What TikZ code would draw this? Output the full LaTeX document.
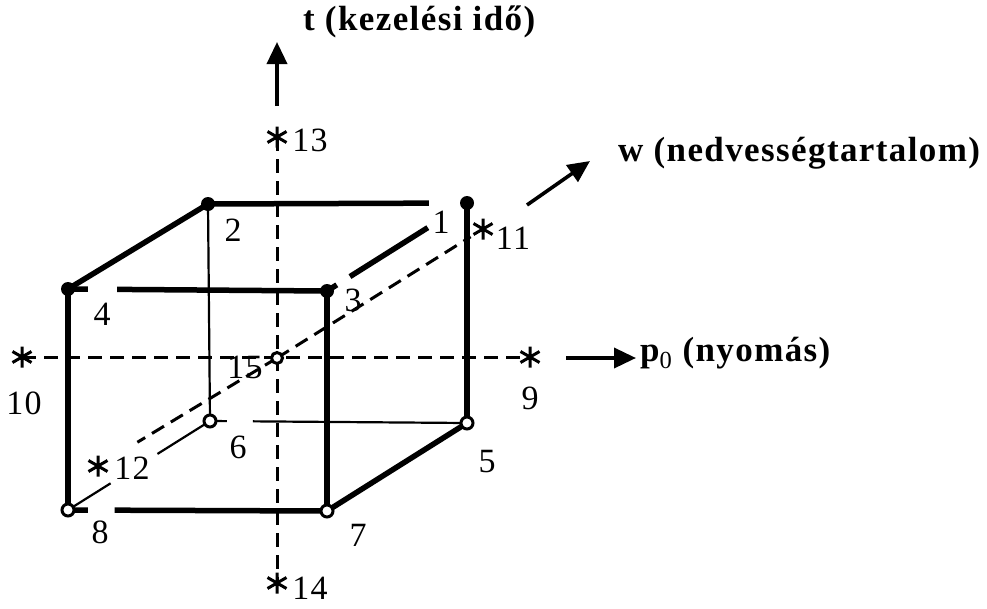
\documentclass[tikz,border=0pt]{standalone}
\usepackage{fontspec}
\setmainfont{Liberation Serif}[LetterSpace=4]
\usetikzlibrary{calc,arrows.meta}
\tikzset{
  thickedge/.style={line width=5.5pt},
  thinedge/.style={line width=2.2pt},
  axisdash/.style={line width=3pt, dash pattern=on 14pt off 8pt},
  fdot/.style={circle, fill=black, inner sep=0pt, minimum size=14pt},
  odot/.style={circle, draw=black, fill=white, line width=3pt, inner sep=0pt, minimum size=12pt},
  lbl/.style={inner sep=0pt, font=\fontsize{34}{38}\selectfont},
  axlbl/.style={inner sep=0pt, font=\fontsize{35}{40}\selectfont\bfseries},
  axarrow/.style={line width=3.6pt, -{Triangle[length=22pt,width=20pt]}},
  astk/.pic={\draw[line width=3pt] (0,-10.5)--(0,10.5) (-9.5,-5.5)--(9.5,5.5) (-9.5,5.5)--(9.5,-5.5);}
}
\begin{document}
\begin{tikzpicture}[x=1pt,y=-1pt]
\useasboundingbox (0,0) rectangle (987,608);
% cube vertices
\coordinate (p1) at (467,203);
\coordinate (p2) at (208,204);
\coordinate (p3) at (327,291);
\coordinate (p4) at (68,289);
\coordinate (p5) at (467,423);
\coordinate (p6) at (210,421);
\coordinate (p7) at (327,511);
\coordinate (p8) at (68,510);
\coordinate (c15) at (277,358);
% star points
\coordinate (s9) at (530,357);
\coordinate (s10) at (22,357);
\coordinate (s11) at (483,229);
\coordinate (s12) at (98,466);
\coordinate (s13) at (277,137);
\coordinate (s14) at (277,583);
% axes
\draw[axisdash] (s10) -- (s9);
\draw[axisdash] (s13) -- (s14);
\draw[axisdash] (c15) -- ($(c15)!0.94!(s11)$);
\draw[axisdash] (c15) -- ($(c15)!0.78!(s12)$);
% thin hidden edges
\draw[thinedge] (p2) -- (p6);
\draw[thinedge] (p6) -- ($(p6)!0.066!(p5)$);
\draw[thinedge] ($(p6)!0.167!(p5)$) -- (p5);
\draw[thinedge] (p8) -- ($(p8)!0.30!(p6)$);
\draw[thinedge] ($(p8)!0.63!(p6)$) -- (p6);
% thick edges
\draw[thickedge] (p4) -- (p2);
\draw[thickedge] (p2) -- ($(p2)!0.853!(p1)$);
\draw[thickedge] (p4) -- ($(p4)!0.077!(p3)$);
\draw[thickedge] ($(p4)!0.19!(p3)$) -- (p3);
\draw[thickedge] (p3) -- ($(p3)!0.07!(p1)$);
\draw[thickedge] ($(p3)!0.164!(p1)$) -- ($(p3)!0.72!(p1)$);
\draw[thickedge] (p4) -- (p8);
\draw[thickedge] (p3) -- (p7);
\draw[thickedge] (p1) -- (p5);
\draw[thickedge] (p8) -- ($(p8)!0.077!(p7)$);
\draw[thickedge] ($(p8)!0.18!(p7)$) -- (p7);
\draw[thickedge] (p7) -- (p5);
% vertex dots
\node[fdot] (d1) at (p1) {};
\node[fdot] (d2) at (p2) {};
\node[fdot] (d3) at (p3) {};
\node[fdot] (d4) at (p4) {};
\node[odot] (d5) at (p5) {};
\node[odot] (d6) at (p6) {};
\node[odot] (d7) at (p7) {};
\node[odot] (d8) at (p8) {};
\node[odot, minimum size=11pt] (d15) at (c15) {};
% stars
\pic (m9) at (s9) {astk};
\pic (m10) at (s10) {astk};
\pic (m11) at (s11) {astk};
\pic (m12) at (s12) {astk};
\pic (m13) at (s13) {astk};
\pic (m14) at (s14) {astk};
% direction arrows
\coordinate (ta) at (277,106);
\coordinate (tb) at (277,42);
\draw[axarrow] (ta) -- (tb);
\coordinate (pa) at (566,358);
\coordinate (pb) at (636,358);
\draw[axarrow] (pa) -- (pb);
\coordinate (wa) at (527,205);
\coordinate (wb) at (590,161);
\draw[axarrow] (wa) -- (wb);
% labels
\node[lbl] (l1) at (441,222) {1};
\node[lbl] (l2) at (233,230) {2};
\node[lbl] (l3) at (353,300) {3};
\node[lbl] (l4) at (102,314) {4};
\node[lbl] (l5) at (487,462) {5};
\node[lbl] (l6) at (238,447) {6};
\node[lbl] (l7) at (358,535) {7};
\node[lbl] (l8) at (100,532) {8};
\node[lbl] (l9) at (530,398) {9};
\node[lbl] (l10) at (24,403) {10};
\node[lbl] (l11) at (513,238) {11};
\node[lbl] (l12) at (132,468) {12};
\node[lbl] (l13) at (310,140) {13};
\node[lbl] (l14) at (310,588) {14};
\node[lbl] (l15) at (245,367) {15};
\node[axlbl, anchor=west] (lt) at (303,22) {t (kezelési idő)};
\node[axlbl, anchor=west] (lw) at (618,153) {w (nedvességtartalom)};
\node[axlbl, anchor=west] (lp) at (640,353) {p\textsubscript{\mdseries 0} (nyomás)};
\end{tikzpicture}
\end{document}
